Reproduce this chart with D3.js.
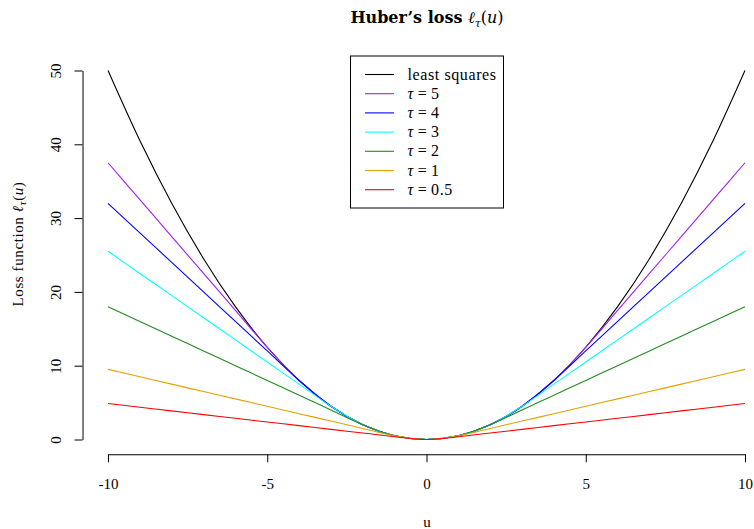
<!DOCTYPE html>
<html>
<head>
<meta charset="utf-8">
<script src="https://cdn.jsdelivr.net/npm/d3@7"></script>
<style>
  body { margin: 0; background: #fff; }
  text { font-family: "Liberation Serif", "DejaVu Serif", serif; fill: #000; }
</style>
</head>
<body>
<svg id="chart" width="754" height="529"></svg>
<script>
// data (u from -10 to 10, step 1)
const uValues = [-10, -9, -8, -7, -6, -5, -4, -3, -2, -1, 0, 1, 2, 3, 4, 5, 6, 7, 8, 9, 10];
const leastSquares = [50, 40.5, 32, 24.5, 18, 12.5, 8, 4.5, 2, 0.5, 0, 0.5, 2, 4.5, 8, 12.5, 18, 24.5, 32, 40.5, 50];
const tau5 = [37.5, 32.5, 27.5, 22.5, 17.5, 12.5, 8, 4.5, 2, 0.5, 0, 0.5, 2, 4.5, 8, 12.5, 17.5, 22.5, 27.5, 32.5, 37.5];
const tau4 = [32, 28, 24, 20, 16, 12, 8, 4.5, 2, 0.5, 0, 0.5, 2, 4.5, 8, 12, 16, 20, 24, 28, 32];
const tau3 = [25.5, 22.5, 19.5, 16.5, 13.5, 10.5, 7.5, 4.5, 2, 0.5, 0, 0.5, 2, 4.5, 7.5, 10.5, 13.5, 16.5, 19.5, 22.5, 25.5];
const tau2 = [18, 16, 14, 12, 10, 8, 6, 4, 2, 0.5, 0, 0.5, 2, 4, 6, 8, 10, 12, 14, 16, 18];
const tau1 = [9.5, 8.5, 7.5, 6.5, 5.5, 4.5, 3.5, 2.5, 1.5, 0.5, 0, 0.5, 1.5, 2.5, 3.5, 4.5, 5.5, 6.5, 7.5, 8.5, 9.5];
const tau05 = [4.875, 4.375, 3.875, 3.375, 2.875, 2.375, 1.875, 1.375, 0.875, 0.375, 0, 0.375, 0.875, 1.375, 1.875, 2.375, 2.875, 3.375, 3.875, 4.375, 4.875];

const seriesNames = ["least squares", "5", "4", "3", "2", "1", "0.5"];
const seriesValues = [leastSquares, tau5, tau4, tau3, tau2, tau1, tau05];
const seriesColors = ["#000000", "#A020F0", "#0000FF", "#00FFFF", "#228B22", "#E6A000", "#FF0000"];
const xTicks = [-10, -5, 0, 5, 10];
const yTicks = [0, 10, 20, 30, 40, 50];

const svg = d3.select("#chart");

const x = d3.scaleLinear().domain([-10, 10]).range([108, 745]);
const y = d3.scaleLinear().domain([0, 50]).range([439.5, 70.5]);

// axes (R style, offset from the plot region)
const yAxis = d3.axisLeft(y).tickValues(yTicks).tickSize(8).tickSizeOuter(0).tickPadding(0)
    .tickFormat(d => String(d));
const gy = svg.append("g")
    .attr("transform", "translate(" + x(-10.8) + ",0)")
    .call(yAxis);
gy.selectAll(".tick text")
    .attr("transform", "rotate(-90)")
    .attr("x", 0).attr("y", -22).attr("dy", 0)
    .attr("text-anchor", "middle")
    .style("font-size", "15px");

const xAxis = d3.axisBottom(x).tickValues(xTicks).tickSize(8).tickSizeOuter(0).tickPadding(0)
    .tickFormat(d => String(d));
const gx = svg.append("g")
    .attr("transform", "translate(0," + y(-2) + ")")
    .call(xAxis);
gx.selectAll(".tick text")
    .attr("y", 35).attr("dy", 0)
    .style("font-size", "15px");

svg.selectAll(".domain, .tick line").attr("stroke", "#000").attr("stroke-width", 1);
svg.selectAll(".tick text").attr("fill", "#000").attr("font-family", null);

// curves
const line = d3.line()
    .x((d, i) => x(uValues[i]))
    .y(d => y(d))
    .curve(d3.curveMonotoneX);

svg.append("g").selectAll("path")
    .data(seriesValues)
    .enter()
    .append("path")
    .attr("d", d => line(d))
    .attr("fill", "none")
    .attr("stroke", (d, i) => seriesColors[i])
    .attr("stroke-width", 1.1);

// title
const title = svg.append("text")
    .attr("x", 427).attr("y", 23)
    .attr("text-anchor", "middle")
    .style("font-family", "'DejaVu Serif', serif")
    .style("font-size", "16px");
title.append("tspan").attr("font-weight", "bold").text("Huber\u2019s loss ");
title.append("tspan").attr("font-style", "italic").text("\u2113");
title.append("tspan").attr("font-style", "italic").attr("dy", 4).style("font-size", "11px").text("\u03C4");
title.append("tspan").attr("dy", -4).text("(");
title.append("tspan").attr("font-style", "italic").text("u");
title.append("tspan").text(")");

// axis labels
svg.append("text")
    .attr("x", 427).attr("y", 527)
    .attr("text-anchor", "middle")
    .style("font-size", "15px")
    .text("u");

const ylab = svg.append("text")
    .attr("transform", "translate(23,244) rotate(-90)")
    .attr("text-anchor", "middle")
    .style("font-size", "15px")
    .style("letter-spacing", "0.6px");
ylab.append("tspan").text("Loss function ");
ylab.append("tspan").attr("font-style", "italic").text("\u2113");
ylab.append("tspan").attr("font-style", "italic").attr("dy", 3).style("font-size", "11px").text("\u03C4");
ylab.append("tspan").attr("dy", -3).text("(");
ylab.append("tspan").attr("font-style", "italic").text("u");
ylab.append("tspan").text(")");

// legend
const legend = svg.append("g").attr("transform", "translate(350.5,56)");
legend.append("rect")
    .attr("width", 153).attr("height", 152)
    .attr("fill", "#fff").attr("stroke", "#000").attr("stroke-width", 1);

const rows = legend.selectAll("g.row")
    .data(seriesNames)
    .enter()
    .append("g")
    .attr("class", "row")
    .attr("transform", (d, i) => "translate(0," + (18.5 + i * 19.2) + ")");

rows.append("line")
    .attr("x1", 14.5).attr("x2", 43.5)
    .attr("stroke", (d, i) => seriesColors[i])
    .attr("stroke-width", 1.1);

rows.each(function (d, i) {
    const t = d3.select(this).append("text")
        .attr("x", 57).attr("y", 5)
        .style("font-size", "16px")
        .style("letter-spacing", "0.6px");
    if (i === 0) {
        t.text(d);
    } else {
        t.append("tspan").attr("font-style", "italic").text("\u03C4");
        t.append("tspan").text("\u2009=\u2009" + d);
    }
});
</script>
</body>
</html>
